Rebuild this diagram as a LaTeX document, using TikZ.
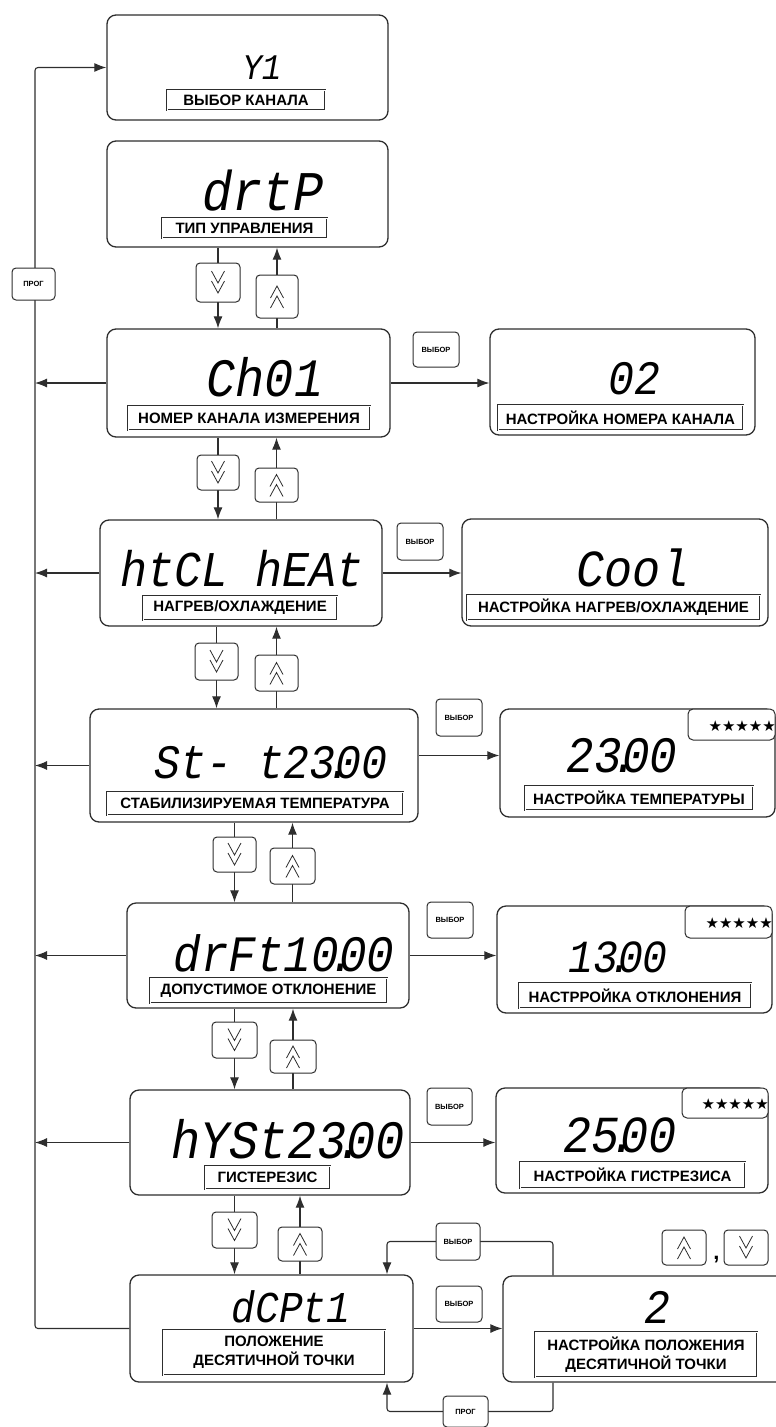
\documentclass[tikz,border=0pt]{standalone}
\usepackage{fontspec}
\setmainfont{Liberation Sans}
\newfontfamily\segfont[FakeStretch=0.9]{Liberation Mono}
\newfontfamily\starfont{DejaVu Sans}
\usetikzlibrary{arrows.meta}
\definecolor{lc}{HTML}{2E2E2E}
\pgfdeclarelayer{bg}
\pgfsetlayers{bg,main}
\newcommand{\segpt}{\kern-.2em.\kern-.34em}
\tikzset{
  disp/.style={draw=lc, line width=1.3pt, rounded corners=9pt, fill=white, inner sep=0pt},
  seg/.style={inner sep=0pt, text depth=0pt, text=black, font={\segfont\itshape\fontsize{#1}{#1}\selectfont}},
  lbl/.style={draw=lc, line width=0.6pt, double=white, double distance=0.9pt, fill=white, inner sep=0pt, align=center, text=black, font={\bfseries\fontsize{15}{19}\selectfont}},
  btn/.style={draw=lc, line width=1pt, rounded corners=4pt, fill=white, inner sep=0pt, minimum width=44pt, minimum height=36pt},
  keytxt/.style={btn, text=black, font={\bfseries\fontsize{7.5}{8}\selectfont}},
  dnbtn/.style={btn, path picture={\draw[lc, line width=0.8pt, sharp corners, shift={(path picture bounding box.center)}] (-6.5,-11.5) -- (0,0.5) -- (6.5,-11.5) (-6.5,-1.5) -- (0,10.5) -- (6.5,-1.5);}},
  upbtn/.style={btn, path picture={\draw[lc, line width=0.8pt, sharp corners, shift={(path picture bounding box.center)}] (-6.5,11.5) -- (0,-0.5) -- (6.5,11.5) (-6.5,1.5) -- (0,-10.5) -- (6.5,1.5);}},
  arr/.style={draw=lc, line width=1.1pt, -{Latex[length=12pt,width=9pt]}},
  starbox/.style={draw=lc, line width=1pt, rounded corners=5pt, fill=white, inner sep=0pt},
  startxt/.style={inner sep=0pt, text=black, font={\starfont\fontsize{15}{15}\selectfont}},
}
\begin{document}
\begin{tikzpicture}[x=1pt,y=-1pt]
\useasboundingbox (0,0) rectangle (776,1427);
\clip (0,0) rectangle (776,1427);

% main column boxes
\node[disp, minimum width=281pt, minimum height=105pt] (b1) at (247.5,67.5) {};
\node[disp, minimum width=281pt, minimum height=106pt] (b2) at (247.5,194) {};
\node[disp, minimum width=283pt, minimum height=108pt] (b3) at (248.5,383) {};
\node[disp, minimum width=282pt, minimum height=106pt] (b4) at (241,573) {};
\node[disp, minimum width=328pt, minimum height=113pt] (b5) at (254,765.5) {};
\node[disp, minimum width=282pt, minimum height=105pt] (b6) at (268,955.5) {};
\node[disp, minimum width=280pt, minimum height=105pt] (b7) at (270,1142.5) {};
\node[disp, minimum width=283pt, minimum height=107pt] (b8) at (271.5,1328.5) {};

% right column boxes
\node[disp, minimum width=265pt, minimum height=106pt] (r3) at (622.5,382) {};
\node[disp, minimum width=306pt, minimum height=107pt] (r4) at (615,572.5) {};
\node[disp, minimum width=275pt, minimum height=108pt] (r5) at (637.5,763) {};
\node[disp, minimum width=275pt, minimum height=107pt] (r6) at (634.5,959.5) {};
\node[disp, minimum width=272pt, minimum height=105pt] (r7) at (632,1140.5) {};
\node[disp, minimum width=297pt, minimum height=106pt] (r8) at (651.5,1329) {};

% star boxes
\node[starbox, minimum width=87pt, minimum height=31pt] (s5) at (731.5,724.5) {};
\node[starbox, minimum width=87pt, minimum height=32pt] (s6) at (728.5,922) {};
\node[starbox, minimum width=86pt, minimum height=30pt] (s7) at (725,1103) {};
\node[startxt, anchor=east] (st5) at (776,726) {★★★★★};
\node[startxt, anchor=east] (st6) at (773,923) {★★★★★};
\node[startxt, anchor=east] (st7) at (769,1104) {★★★★★};

% display texts
\node[seg=36] (t1) at (262,68) {Y1};
\node[seg=56] (t2) at (263,190) {drtP};
\node[seg=54] (t3) at (265,377) {Ch01};
\node[seg=50] (t4) at (242,568) {htCL hEAt};
\node[seg=48] (t5) at (271,762) {St- t23\segpt00};
\node[seg=51] (t6) at (284,953) {drFt10\segpt00};
\node[seg=54] (t7) at (288,1139) {hYSt23\segpt00};
\node[seg=44] (t8) at (291,1307) {dCPt1};
\node[seg=48] (u3) at (634,378) {02};
\node[seg=52] (u4) at (633,568) {Cool};
\node[seg=51] (u5) at (622,755) {23\segpt00};
\node[seg=46] (u6) at (618,957) {13\segpt00};
\node[seg=52] (u7) at (620,1135) {25\segpt00};
\node[seg=48] (u8) at (657,1307) {2};

% labels
\node[lbl, minimum width=158pt, minimum height=20pt] (l1) at (246,100) {ВЫБОР КАНАЛА};
\node[lbl, minimum width=165pt, minimum height=20pt] (l2) at (244.5,228) {ТИП УПРАВЛЕНИЯ};
\node[lbl, minimum width=242pt, minimum height=24pt] (l3) at (249,418) {НОМЕР КАНАЛА ИЗМЕРЕНИЯ};
\node[lbl, minimum width=194pt, minimum height=24pt] (l4) at (240,608) {НАГРЕВ/ОХЛАЖДЕНИЕ};
\node[lbl, minimum width=296pt, minimum height=23pt] (l5) at (255,803.5) {СТАБИЛИЗИРУЕМАЯ ТЕМПЕРАТУРА};
\node[lbl, minimum width=237pt, minimum height=25pt] (l6) at (268.5,990.5) {ДОПУСТИМОЕ ОТКЛОНЕНИЕ};
\node[lbl, minimum width=125pt, minimum height=23pt] (l7) at (267.5,1177.5) {ГИСТЕРЕЗИС};
\node[lbl, minimum width=222pt, minimum height=45pt] (l8) at (274,1352.5) {ПОЛОЖЕНИЕ\\ДЕСЯТИЧНОЙ ТОЧКИ};
\node[lbl, minimum width=245pt, minimum height=25pt] (m3) at (620.5,417.5) {НАСТРОЙКА НОМЕРА КАНАЛА};
\node[lbl, minimum width=293pt, minimum height=25pt] (m4) at (613.5,607.5) {НАСТРОЙКА НАГРЕВ/ОХЛАЖДЕНИЕ};
\node[lbl, minimum width=228pt, minimum height=24pt] (m5) at (639,798) {НАСТРОЙКА ТЕМПЕРАТУРЫ};
\node[lbl, minimum width=232pt, minimum height=25pt] (m6) at (635,995.5) {НАСТРРОЙКА ОТКЛОНЕНИЯ};
\node[lbl, minimum width=225pt, minimum height=26pt] (m7) at (632.5,1175) {НАСТРОЙКА ГИСТРЕЗИСА};
\node[lbl, minimum width=222pt, minimum height=45pt] (m8) at (646,1354.5) {НАСТРОЙКА ПОЛОЖЕНИЯ\\ДЕСЯТИЧНОЙ ТОЧКИ};

% down / up buttons
\node[dnbtn, minimum width=44pt, minimum height=39pt] (d2) at (218,282.5) {};
\node[upbtn, minimum width=42pt, minimum height=43pt] (p2) at (277,296.5) {};
\node[dnbtn, minimum width=42pt, minimum height=35pt] (d3) at (218,472.5) {};
\node[upbtn, minimum width=43pt, minimum height=34pt] (p3) at (276.5,485) {};
\node[dnbtn, minimum width=43pt, minimum height=37pt] (d4) at (216.5,661.5) {};
\node[upbtn, minimum width=43pt, minimum height=36pt] (p4) at (276.5,673) {};
\node[dnbtn, minimum width=43pt, minimum height=35pt] (d5) at (234.5,854.5) {};
\node[upbtn, minimum width=45pt, minimum height=36pt] (p5) at (292.5,866) {};
\node[dnbtn, minimum width=45pt, minimum height=36pt] (d6) at (234.5,1040) {};
\node[upbtn, minimum width=46pt, minimum height=33pt] (p6) at (293,1056.5) {};
\node[dnbtn, minimum width=45pt, minimum height=36pt] (d7) at (234.5,1230) {};
\node[upbtn, minimum width=44pt, minimum height=34pt] (p7) at (300,1244) {};
\node[upbtn, minimum width=44pt, minimum height=35pt] (pu) at (684,1247.5) {};
\node[dnbtn, minimum width=44pt, minimum height=35pt] (pd) at (746,1247.5) {};
\node[inner sep=0pt, text=black, font={\bfseries\fontsize{22}{22}\selectfont}] (comma) at (716.5,1260) {,};

% key buttons
\node[keytxt, minimum width=43pt, minimum height=32pt] (prog) at (33.5,284) {ПРОГ};
\node[keytxt, minimum width=46pt, minimum height=35pt] (v3) at (436,349.5) {ВЫБОР};
\node[keytxt, minimum width=46pt, minimum height=37pt] (v4) at (420,541.5) {ВЫБОР};
\node[keytxt, minimum width=46pt, minimum height=37pt] (v5) at (459,717.5) {ВЫБОР};
\node[keytxt, minimum width=46pt, minimum height=36pt] (v6) at (450,920) {ВЫБОР};
\node[keytxt, minimum width=45pt, minimum height=37pt] (v7) at (449.5,1106.5) {ВЫБОР};
\node[keytxt, minimum width=44pt, minimum height=37pt] (v8a) at (458,1241.5) {ВЫБОР};
\node[keytxt, minimum width=46pt, minimum height=36pt] (v8b) at (459,1304) {ВЫБОР};
\node[keytxt, minimum width=45pt, minimum height=31pt] (p8) at (465.5,1411.5) {ПРОГ};

\coordinate (px) at (35,0);
\coordinate (lx) at (387,0);
\coordinate (rx) at (553,0);

\begin{pgfonlayer}{bg}
% PROG return line
\draw[arr, rounded corners=3pt] (b8.west) -| (b1.west -| px) -- (b1.west);
\foreach \b in {b3,b4,b5,b6,b7} \draw[arr] (\b.west) -- (\b.west -| px);
% right arrows
\draw[arr] (b3.east) -- (b3.east -| r3.west);
\draw[arr] (b4.east) -- (b4.east -| r4.west);
\draw[arr] ([yshift=10pt]b5.east) -- ([yshift=10pt]b5.east -| r5.west);
\draw[arr] (b6.east) -- (b6.east -| r6.west);
\draw[arr] (b7.east) -- (b7.east -| r7.west);
\draw[arr] (b8.east) -- (b8.east -| r8.west);
% down / up chains
\draw[arr] (b2.south -| d2) -- (b3.north -| d2);
\draw[arr] (b3.north -| p2) -- (b2.south -| p2);
\draw[arr] (b3.south -| d3) -- (b4.north -| d3);
\draw[arr] (b4.north -| p3) -- (b3.south -| p3);
\draw[arr] (b4.south -| d4) -- (b5.north -| d4);
\draw[arr] (b5.north -| p4) -- (b4.south -| p4);
\draw[arr] (b5.south -| d5) -- (b6.north -| d5);
\draw[arr] (b6.north -| p5) -- (b5.south -| p5);
\draw[arr] (b6.south -| d6) -- (b7.north -| d6);
\draw[arr] (b7.north -| p6) -- (b6.south -| p6);
\draw[arr] (b7.south -| d7) -- (b8.north -| d7);
\draw[arr] (b8.north -| p7) -- (b7.south -| p7);
% decimal point loops
\draw[arr, rounded corners=3pt] (r8.north -| rx) |- (v8a.center) -| (b8.north -| lx);
\draw[arr, rounded corners=3pt] (r8.south -| rx) |- (p8.center) -| (b8.south -| lx);
\end{pgfonlayer}
\end{tikzpicture}
\end{document}
